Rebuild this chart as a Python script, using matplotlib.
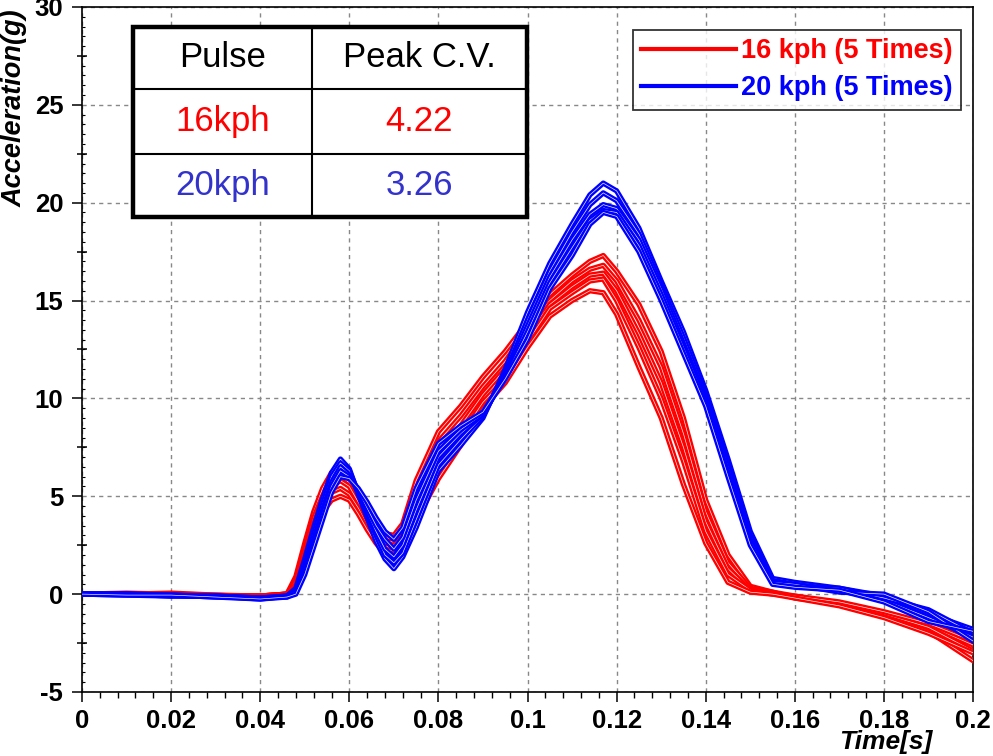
import numpy as np
import matplotlib
matplotlib.use('Agg')
import matplotlib.pyplot as plt
import matplotlib.patheffects as pe
from matplotlib.lines import Line2D
from matplotlib.patches import Rectangle
from matplotlib.ticker import MultipleLocator, FuncFormatter

plt.rcParams['font.family'] = ['Liberation Sans', 'DejaVu Sans']
plt.rcParams['axes.unicode_minus'] = False

# Time axis (s), shared by all ten runs
t = [0, 0.01, 0.02, 0.03, 0.04, 0.046, 0.048, 0.05, 0.052, 0.054, 0.056, 0.058,
     0.06, 0.062, 0.064, 0.066, 0.068, 0.07, 0.072, 0.075, 0.08, 0.085, 0.09, 0.095,
     0.1, 0.105, 0.11, 0.114, 0.117, 0.12, 0.125, 0.13, 0.135, 0.14, 0.145, 0.15,
     0.155, 0.16, 0.17, 0.18, 0.19, 0.2]

# 16 kph runs (g)
red_1 = [0.0, 0.0, 0.05, -0.05, -0.1, 0.0, 0.9, 2.6, 4.2, 5.4, 6.2, 6.5, 6.1, 5.2, 4.3, 3.6, 3.1, 3.0, 3.6,
         5.8, 8.3, 9.6, 11.1, 12.4, 13.9, 15.3, 16.3, 17.0, 17.3, 16.5, 14.8, 12.4, 9.0, 4.8, 2.0, 0.4,
         0.1, -0.1, -0.5, -1.1, -1.9, -3.4]
red_2 = [0.0, 0.0, 0.0, -0.1, -0.1, 0.0, 0.7, 2.3, 3.9, 5.0, 5.7, 6.0, 5.7, 4.9, 4.0, 3.3, 2.9, 2.8, 3.3,
         5.2, 7.8, 9.1, 10.6, 11.9, 13.5, 15.0, 16.0, 16.6, 16.8, 16.0, 14.0, 11.6, 8.2, 4.2, 1.6, 0.3,
         0.1, -0.2, -0.5, -1.0, -1.6, -2.6]
red_3 = [0.0, 0.05, 0.0, -0.05, -0.15, 0.0, 0.5, 2.0, 3.6, 4.8, 5.5, 5.8, 5.5, 4.7, 3.8, 3.0, 2.6, 2.5, 3.0,
         4.6, 7.2, 8.6, 10.2, 11.5, 13.2, 14.8, 15.7, 16.3, 16.4, 15.5, 13.3, 10.8, 7.5, 3.7, 1.3, 0.2,
         0.05, -0.15, -0.45, -1.0, -1.7, -2.9]
red_4 = [0.0, 0.0, 0.0, -0.1, -0.1, 0.0, 0.4, 1.8, 3.3, 4.5, 5.2, 5.4, 5.1, 4.4, 3.5, 2.8, 2.3, 2.2, 2.7,
         4.2, 6.6, 8.1, 9.8, 11.0, 12.9, 14.6, 15.4, 16.0, 16.1, 15.0, 12.6, 10.0, 6.8, 3.2, 1.0, 0.2,
         0.0, -0.1, -0.4, -0.9, -1.5, -2.4]
red_5 = [0.0, 0.0, -0.05, -0.1, -0.1, 0.0, 0.3, 1.6, 3.0, 4.2, 4.8, 5.0, 4.8, 4.1, 3.3, 2.6, 2.1, 2.0, 2.4,
         3.8, 5.9, 7.6, 9.5, 10.8, 12.6, 14.2, 15.0, 15.5, 15.4, 14.3, 11.6, 9.0, 5.6, 2.6, 0.6, 0.1,
         0.0, -0.2, -0.6, -1.2, -2.0, -3.0]

# 20 kph runs (g)
blue_1 = [0.0, 0.0, -0.05, -0.1, -0.2, -0.1, 0.3, 1.8, 3.4, 4.9, 6.2, 6.9, 6.4, 5.1, 3.9, 2.7, 1.8, 1.3, 1.9,
          3.4, 6.3, 7.6, 9.0, 11.5, 14.4, 16.9, 18.9, 20.4, 21.0, 20.6, 18.7, 16.0, 13.4, 10.4, 6.9, 3.2,
          0.8, 0.6, 0.3, -0.1, -1.0, -1.8]
blue_2 = [0.0, -0.05, -0.1, -0.1, -0.25, -0.1, 0.2, 1.5, 3.1, 4.6, 6.0, 6.7, 6.3, 5.2, 4.1, 3.0, 2.0, 1.6, 2.1,
          3.8, 6.6, 7.9, 9.1, 11.3, 14.0, 16.5, 18.5, 19.9, 20.5, 20.1, 18.4, 15.8, 13.1, 10.2, 6.7, 3.0,
          0.7, 0.5, 0.2, -0.3, -1.2, -2.2]
blue_3 = [0.0, 0.0, -0.05, -0.15, -0.2, -0.15, 0.1, 1.3, 2.8, 4.3, 5.7, 6.5, 6.1, 5.2, 4.2, 3.2, 2.3, 1.9, 2.5,
          4.3, 7.0, 8.2, 9.2, 11.2, 13.7, 16.2, 18.1, 19.4, 19.9, 19.7, 18.1, 15.6, 12.8, 10.0, 6.5, 2.8,
          0.6, 0.4, 0.3, -0.2, -0.8, -2.0]
blue_4 = [0.0, 0.0, -0.1, -0.1, -0.2, -0.1, 0.1, 1.2, 2.6, 4.1, 5.5, 6.3, 6.0, 5.3, 4.4, 3.5, 2.8, 2.3, 2.9,
          4.8, 7.3, 8.4, 9.2, 11.1, 13.4, 15.9, 17.7, 19.1, 19.6, 19.5, 17.8, 15.3, 12.6, 9.8, 6.2, 2.7,
          0.6, 0.5, 0.1, 0.0, -0.9, -2.4]
blue_5 = [0.0, -0.05, -0.05, -0.15, -0.25, -0.15, 0.0, 1.0, 2.4, 3.8, 5.2, 6.0, 5.9, 5.4, 4.7, 3.9, 3.2, 2.8, 3.4,
          5.4, 7.7, 8.6, 9.3, 11.0, 13.0, 15.6, 17.3, 18.9, 19.5, 19.3, 17.5, 15.0, 12.3, 9.6, 6.0, 2.5,
          0.5, 0.35, 0.2, -0.4, -1.4, -1.9]

red_runs = [red_1, red_2, red_3, red_4, red_5]
blue_runs = [blue_1, blue_2, blue_3, blue_4, blue_5]

legend_labels = ['16 kph (5 Times)', '20 kph (5 Times)']
table_header = ['Pulse', 'Peak C.V.']
table_pulse = ['16kph', '20kph']
table_cv = ['4.22', '3.26']

RED = '#ff0000'
BLUE = '#0000ff'
TBL_BLUE = '#3333cc'

fig = plt.figure(figsize=(9.93, 7.56), dpi=100)
ax = fig.add_axes([0.0826, 0.0847, 0.8973, 0.9061])

# Curves: thick coloured stroke with a thin white core (hollow look)
def draw_run(y, color):
    ax.plot(t, y, color='white', lw=0.45, zorder=3, solid_joinstyle='round',
            path_effects=[pe.Stroke(linewidth=3.8, foreground=color), pe.Normal()])

for y in red_runs:
    draw_run(y, RED)
for y in blue_runs:
    draw_run(y, BLUE)

# Axes
ax.set_xlim(0, 0.2)
ax.set_ylim(-5, 30)
ax.xaxis.set_major_locator(MultipleLocator(0.02))
ax.xaxis.set_minor_locator(MultipleLocator(0.004))
ax.yaxis.set_major_locator(MultipleLocator(5))
ax.yaxis.set_minor_locator(MultipleLocator(0.5))
ax.xaxis.set_major_formatter(FuncFormatter(lambda v, p: '{:g}'.format(round(v, 3))))
ax.yaxis.set_major_formatter(FuncFormatter(lambda v, p: '{:g}'.format(v)))
ax.grid(True, which='major', color='#888888', ls=(0, (3, 3)), lw=1.0)
ax.tick_params(axis='both', which='major', direction='out', length=7.5, width=1.1,
               labelsize=18.5, pad=5)
ax.tick_params(axis='y', which='major', pad=6)
ax.tick_params(axis='x', which='minor', direction='out', length=4, width=1.0)
ax.tick_params(axis='y', which='minor', direction='in', length=2, width=0.8)
for lab in ax.get_xticklabels() + ax.get_yticklabels():
    lab.set_fontweight('bold')
for s in ax.spines.values():
    s.set_linewidth(1.2)

# half-step ticks on the y axis
sec = ax.secondary_yaxis('left')
sec.set_yticks(np.arange(-2.5, 30, 5))
sec.tick_params(direction='inout', length=7, width=1.1, labelleft=False)
sec.spines['left'].set_visible(False)

fig.text(0.015, 0.857, 'Acceleration(g)', rotation=90, ha='center', va='center',
         fontsize=19.5, fontweight='bold', fontstyle='italic')
fig.text(0.892, 0.0185, 'Time[s]', ha='center', va='center',
         fontsize=19, fontweight='bold', fontstyle='italic')

# Legend
handles = [Line2D([], [], color=RED, lw=3), Line2D([], [], color=BLUE, lw=3)]
leg = ax.legend(handles, legend_labels, loc='upper right', bbox_to_anchor=(0.9865, 0.9664),
                fontsize=19.5, frameon=True, fancybox=False, edgecolor='black',
                handlelength=3.5, handletextpad=0.2, borderpad=0.3, labelspacing=0.42,
                borderaxespad=0)
leg.get_frame().set_linewidth(1.3)
leg.set_zorder(6)
for txt, c in zip(leg.get_texts(), [RED, BLUE]):
    txt.set_color(c)
    txt.set_fontweight('bold')

# Peak C.V. table
x0, xm, x1 = 0.0572, 0.2581, 0.4994
ys = [0.9708, 0.8803, 0.7854, 0.6934]
tr = ax.transAxes
ax.add_patch(Rectangle((x0, ys[3]), x1 - x0, ys[0] - ys[3], transform=tr, facecolor='white',
                       edgecolor='none', zorder=5, clip_on=False))
for yy in ys[1:3]:
    ax.plot([x0, x1], [yy, yy], transform=tr, color='black', lw=1.5, zorder=6, clip_on=False)
ax.plot([xm, xm], [ys[3], ys[0]], transform=tr, color='black', lw=1.5, zorder=6, clip_on=False)
ax.add_patch(Rectangle((x0, ys[3]), x1 - x0, ys[0] - ys[3], transform=tr, facecolor='none',
                       edgecolor='black', lw=3.2, zorder=7, clip_on=False, joinstyle='miter'))
cx = [(x0 + xm) / 2, (xm + x1) / 2]
cy = [(ys[i] + ys[i + 1]) / 2 for i in range(3)]
rows = [(table_header, ['black', 'black'])]
rows.append(([table_pulse[0], table_cv[0]], [RED, RED]))
rows.append(([table_pulse[1], table_cv[1]], [TBL_BLUE, TBL_BLUE]))
for i, (texts, cols) in enumerate(rows):
    for j in range(2):
        ax.text(cx[j], cy[i], texts[j], transform=tr, ha='center', va='center',
                fontsize=25, color=cols[j], zorder=8)

fig.savefig('out.png', dpi=100)
